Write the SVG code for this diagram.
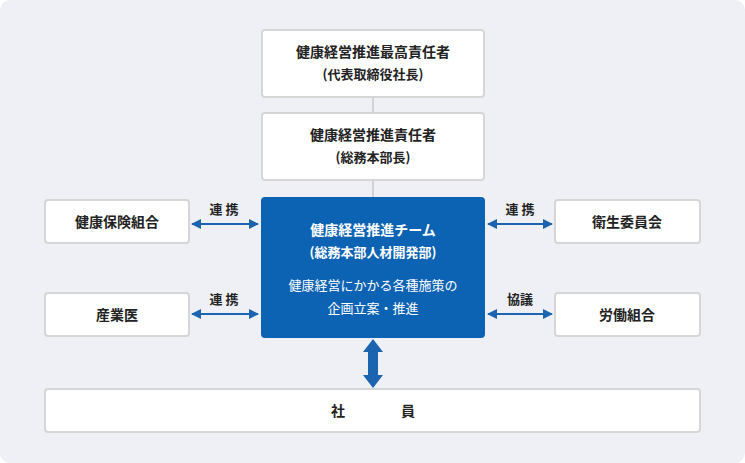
<svg xmlns="http://www.w3.org/2000/svg" width="745" height="463" viewBox="0 0 745 463">
<style>
text{font-family:"Noto Sans CJK JP",sans-serif;text-anchor:middle;font-weight:bold;fill:#222}
.b{fill:#fff;stroke:#d6d6d6;stroke-width:2}
.t{font-size:14px}
.s{font-size:13px}
.w{fill:#fff}
.ln{stroke:#c8c8c8;stroke-width:1.5}
.ar{stroke:#1a64b0;stroke-width:2;marker-start:url(#h);marker-end:url(#h)}
</style>
<defs>
<marker id="h" viewBox="0 0 10 10" refX="9" refY="5" markerWidth="5" markerHeight="5" orient="auto-start-reverse"><path d="M0,0L10,5L0,10z" fill="#1a64b0"/></marker>
</defs>
<rect x="0" y="0" width="745" height="463" rx="10" fill="#eef0f5"/>
<g id="connectors">
<line class="ln" x1="373" y1="97" x2="373" y2="113"/>
<line class="ln" x1="373" y1="180" x2="373" y2="197"/>
<line class="ar" x1="192" y1="224" x2="258" y2="224"/>
<line class="ar" x1="488" y1="224" x2="552" y2="224"/>
<line class="ar" x1="192" y1="314" x2="258" y2="314"/>
<line class="ar" x1="488" y1="314" x2="552" y2="314"/>
<text class="s" x="224" y="214">連 携</text>
<text class="s" x="520" y="214">連 携</text>
<text class="s" x="224" y="304">連 携</text>
<text class="s" x="520" y="304">協議</text>
<path d="M373,339L383,352L378,352L378,375L383,375L373,388L363,375L368,375L368,352L363,352z" fill="#1a64b0"/>
</g>
<g id="top"><rect class="b" x="262" y="30" width="222" height="67" rx="3"/><text class="t" x="373" y="57">健康経営推進最高責任者</text><text class="s" x="373" y="79">(代表取締役社長)</text></g>
<g id="mgr"><rect class="b" x="262" y="113" width="222" height="67" rx="3"/><text class="t" x="373" y="140">健康経営推進責任者</text><text class="s" x="373" y="162">(総務本部長)</text></g>
<g id="team"><rect x="261" y="197" width="224" height="141" rx="4" fill="#0d63b3"/>
<text class="t w" x="373" y="235">健康経営推進チーム</text><text class="s w" x="373" y="257">(総務本部人材開発部)</text>
<text class="s w" x="373" y="290" font-weight="normal" style="font-weight:normal">健康経営にかかる各種施策の</text><text class="s w" x="373" y="313" style="font-weight:normal">企画立案・推進</text></g>
<g id="kenpo"><rect class="b" x="45" y="200" width="144" height="43" rx="3"/><text class="t" x="117" y="227">健康保険組合</text></g>
<g id="sangyoi"><rect class="b" x="45" y="293" width="144" height="43" rx="3"/><text class="t" x="117" y="320">産業医</text></g>
<g id="eisei"><rect class="b" x="555" y="200" width="145" height="43" rx="3"/><text class="t" x="627" y="227">衛生委員会</text></g>
<g id="union"><rect class="b" x="555" y="293" width="145" height="43" rx="3"/><text class="t" x="627" y="320">労働組合</text></g>
<g id="staff"><rect class="b" x="45" y="389" width="655" height="43" rx="3"/><text class="t" x="373" y="416" xml:space="preserve">社　　　　員</text></g>
</svg>
